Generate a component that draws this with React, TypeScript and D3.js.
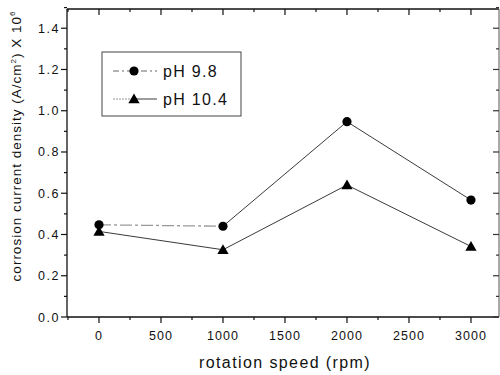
import React from "react";
import * as d3 from "d3";

// Rotation speed (rpm) and corrosion current density (A/cm² ×10⁶)
const speeds = [0, 1000, 2000, 3000];
const ph98 = [0.447, 0.44, 0.947, 0.567];
const ph104 = [0.415, 0.326, 0.64, 0.342];
const seriesNames = ["pH 9.8", "pH 10.4"];
const xTicks = [0, 500, 1000, 1500, 2000, 2500, 3000];
const yTicks = [0.0, 0.2, 0.4, 0.6, 0.8, 1.0, 1.2, 1.4];

const W = 500;
const H = 375;
const plot = { left: 67, right: 499, top: 9, bottom: 317 };
const FONT = "'Liberation Sans', Arial, sans-serif";

export default function App() {
  const x = d3.scaleLinear().domain([-258, 3226]).range([plot.left, plot.right]);
  const y = d3.scaleLinear().domain([0, 1.5]).range([plot.bottom, 7.6]);

  const line = d3
    .line<[number, number]>()
    .x((d) => x(d[0]))
    .y((d) => y(d[1]));

  const pts98: [number, number][] = speeds.map((s, i) => [s, ph98[i]]);
  const pts104: [number, number][] = speeds.map((s, i) => [s, ph104[i]]);

  const xMinor = d3.range(-250, 3251, 250).filter((v) => x(v) >= plot.left && x(v) <= plot.right);
  const yMinor = d3.range(0, 1.51, 0.1);

  const tri = d3.symbol().type(d3.symbolTriangle).size(55)();
  const lineColor = "#3a3a3a";

  return (
    <svg
      width={W}
      height={H}
      style={{ position: "absolute", left: 0, top: 0, background: "#fff" }}
      fontFamily={FONT}
    >
      <rect width={W} height={H} fill="#fff" />

      {/* frame */}
      <line x1={plot.left} x2={plot.right} y1={plot.bottom} y2={plot.bottom} stroke="#111" strokeWidth={1.3} />
      <line x1={plot.left} x2={plot.left} y1={plot.top} y2={plot.bottom} stroke="#111" strokeWidth={1.3} />
      <line x1={plot.left} x2={plot.right} y1={plot.top} y2={plot.top} stroke="#111" strokeWidth={1.3} />
      <line x1={plot.right} x2={plot.right} y1={plot.top} y2={plot.bottom} stroke="#555" strokeWidth={1} />

      {/* x ticks: outward at bottom, inward at top */}
      {xMinor.map((v) => {
        const major = v % 500 === 0;
        const len = major ? 6 : 3;
        return (
          <g key={"xt" + v}>
            <line x1={x(v)} x2={x(v)} y1={plot.bottom} y2={plot.bottom + len} stroke="#111" strokeWidth={1.2} />
            <line x1={x(v)} x2={x(v)} y1={plot.top} y2={plot.top + len} stroke="#111" strokeWidth={1.2} />
          </g>
        );
      })}
      {xTicks.map((v) => (
        <text key={"xl" + v} x={x(v)} y={340} textAnchor="middle" fontSize={12.5} letterSpacing={1} fill="#111">
          {v}
        </text>
      ))}

      {/* y ticks: outward at left, inward at right */}
      {yMinor.map((v, i) => {
        const major = i % 2 === 0;
        const len = major ? 6 : 3;
        return (
          <g key={"yt" + i}>
            <line x1={plot.left - len} x2={plot.left} y1={y(v)} y2={y(v)} stroke="#111" strokeWidth={1.2} />
            <line x1={plot.right - len} x2={plot.right} y1={y(v)} y2={y(v)} stroke="#333" strokeWidth={1.2} />
          </g>
        );
      })}
      {yTicks.map((v) => (
        <text key={"yl" + v} x={60} y={y(v) + 4.5} textAnchor="end" fontSize={12.5} letterSpacing={1.5} fill="#111">
          {v.toFixed(1)}
        </text>
      ))}

      {/* axis titles */}
      <text x={285} y={368} textAnchor="middle" fontSize={16} letterSpacing={1.4} fill="#111">
        rotation speed (rpm)
      </text>
      <text
        transform={`translate(21, ${146}) rotate(-90)`}
        textAnchor="middle"
        fontSize={13.5}
        letterSpacing={1}
        fill="#111"
      >
        corrosion current density (A/cm
        <tspan dy={-5} fontSize={8}>2</tspan>
        <tspan dy={5}>) X 10</tspan>
        <tspan dy={-6} fontSize={8}>6</tspan>
      </text>

      {/* pH 9.8 */}
      <path d={line(pts98.slice(0, 2)) || ""} fill="none" stroke="#999" strokeWidth={1.3} strokeDasharray="12,3,3,3" />
      <path d={line(pts98.slice(1)) || ""} fill="none" stroke={lineColor} strokeWidth={1} />
      {pts98.map((p, i) => (
        <circle key={"c" + i} cx={x(p[0])} cy={y(p[1])} r={4.6} fill="#000" />
      ))}

      {/* pH 10.4 */}
      <path d={line(pts104) || ""} fill="none" stroke={lineColor} strokeWidth={1} />
      {pts104.map((p, i) => (
        <path key={"t" + i} d={tri || ""} transform={`translate(${x(p[0])},${y(p[1]) + 1})`} fill="#000" />
      ))}

      {/* legend */}
      <rect x={102} y={52} width={139} height={64} fill="#fff" stroke="#444" strokeWidth={1} />
      <line x1={113} x2={157} y1={71} y2={71} stroke="#666" strokeWidth={1} strokeDasharray="6,3,2,3" />
      <circle cx={134} cy={71} r={4.6} fill="#000" />
      <text x={163} y={77} fontSize={16} letterSpacing={1.3} fill="#111">
        {seriesNames[0]}
      </text>
      <line x1={113} x2={134} y1={99} y2={99} stroke="#999" strokeWidth={1} strokeDasharray="2,1" />
      <line x1={134} x2={157} y1={99} y2={99} stroke={lineColor} strokeWidth={1} />
      <path d={tri || ""} transform="translate(134,100)" fill="#000" />
      <text x={163} y={105} fontSize={16} letterSpacing={1.3} fill="#111">
        {seriesNames[1]}
      </text>
    </svg>
  );
}
